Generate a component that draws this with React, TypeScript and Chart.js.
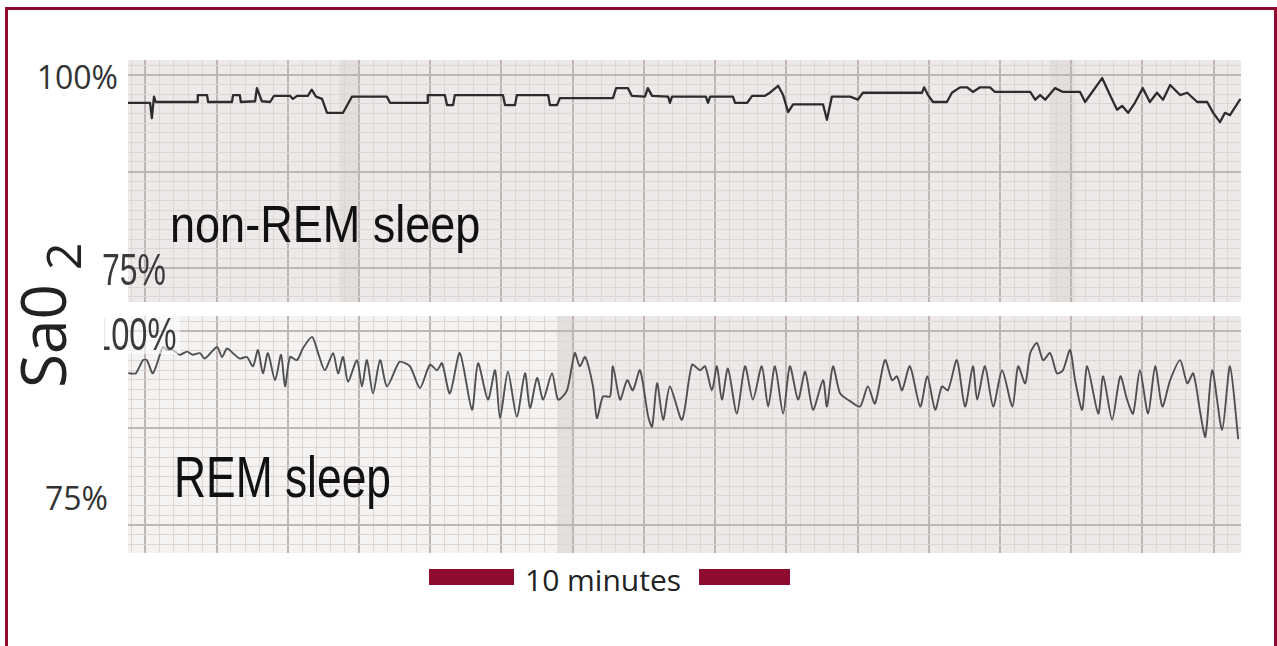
import React, { useEffect, useRef } from "react";
import { Chart, registerables } from "chart.js";

Chart.register(...registerables);

// ---- time axis (minutes) ----
const timeMin = -0.49;
const timeMax = 30.77;
const minorTimeStep = 0.4; // one small square
const majorTimeEvery = 5; // heavy line every 2 minutes

// ---- saturation axis (%) ----
const satMinorStep = 1.25;
const satMajorEvery = 10; // heavy line every 12.5 %
const nonRemSatRange = [70.6, 101.94];
const remSatRange = [71.38, 102.0];

// ---- non-REM sleep trace ----
const nonRemTime = [
  -0.49, 0.13, 0.18, 0.24, 0.29, 1.45, 1.47, 1.73, 1.76, 2.43,
  2.46, 2.65, 2.68, 3.08, 3.13, 3.27, 3.5, 3.61, 4.06, 4.14,
  4.26, 4.56, 4.67, 4.79, 4.96, 5.1, 5.55, 5.8, 6.78, 6.87,
  7.91, 7.93, 8.41, 8.47, 8.64, 8.69, 10.04, 10.1, 10.38, 10.43,
  11.31, 11.36, 11.56, 11.64, 13.13, 13.22, 13.55, 13.66, 14.03, 14.11,
  14.23, 14.68, 14.73, 14.79, 15.74, 15.8, 15.86, 16.5, 16.56, 16.9,
  17.04, 17.4, 17.54, 17.77, 17.91, 18.05, 18.19, 19.03, 19.14, 19.28,
  19.79, 20.01, 20.15, 21.81, 21.87, 21.98, 22.12, 22.51, 22.65, 22.88,
  23.08, 23.24, 23.44, 23.72, 23.86, 24.85, 24.99, 25.13, 25.27, 25.55,
  25.77, 26.25, 26.39, 26.87, 27.09, 27.29, 27.43, 27.6, 27.79, 28.01,
  28.21, 28.41, 28.58, 28.78, 29.06, 29.26, 29.54, 29.82, 29.99, 30.18,
  30.32, 30.46, 30.74,
];
const nonRemSat = [
  96.4, 96.4, 94.4, 97.2, 96.5, 96.5, 97.4, 97.4, 96.5, 96.5,
  97.4, 97.4, 96.5, 96.6, 98.3, 96.6, 96.5, 97.3, 97.3, 96.9,
  97.3, 97.3, 98.1, 97.2, 96.9, 95.1, 95.1, 97.2, 97.2, 96.4,
  96.4, 97.4, 97.4, 96.1, 96.1, 97.4, 97.4, 96.1, 96.1, 97.4,
  97.4, 96.1, 96.1, 97.0, 97.0, 98.3, 98.3, 97.3, 97.2, 98.3,
  97.3, 97.2, 96.4, 97.2, 97.2, 96.4, 97.2, 97.2, 96.4, 96.4,
  97.3, 97.3, 97.7, 98.6, 97.4, 95.2, 96.2, 96.2, 94.2, 97.2,
  97.2, 96.8, 97.7, 97.7, 98.4, 97.4, 96.5, 96.5, 97.7, 98.4,
  98.4, 97.8, 98.4, 98.4, 97.8, 97.8, 96.8, 97.4, 96.8, 98.3,
  97.8, 97.8, 96.5, 99.6, 97.4, 95.5, 96.0, 95.1, 96.4, 98.3,
  96.5, 97.7, 96.8, 98.7, 97.4, 97.7, 96.5, 96.5, 95.1, 93.9,
  95.1, 94.8, 96.8,
];

// ---- REM sleep trace ----
const remTime = [
  -0.46, -0.27, -0.07, 0.04, 0.21, 0.49, 0.6, 0.77, 0.97, 1.17,
  1.33, 1.53, 1.67, 2.01, 2.15, 2.29, 2.46, 2.65, 2.85, 3.02,
  3.16, 3.3, 3.44, 3.64, 3.81, 3.92, 4.06, 4.26, 4.42, 4.68,
  4.85, 5.04, 5.27, 5.41, 5.55, 5.69, 5.94, 6.08, 6.22, 6.39,
  6.59, 6.78, 7.06, 7.15, 7.43, 7.71, 7.99, 8.19, 8.33, 8.55,
  8.83, 9.17, 9.34, 9.62, 9.82, 9.96, 10.18, 10.43, 10.66, 10.8,
  11.0, 11.17, 11.42, 11.59, 11.84, 12.06, 12.2, 12.35, 12.57, 12.68,
  12.85, 13.05, 13.13, 13.33, 13.53, 13.69, 13.89, 14.12, 14.23, 14.37,
  14.54, 14.73, 15.07, 15.35, 15.58, 15.72, 15.91, 16.05, 16.19, 16.36,
  16.61, 16.84, 17.06, 17.31, 17.49, 17.68, 17.91, 18.1, 18.33, 18.53,
  18.75, 19.03, 19.14, 19.31, 19.51, 19.79, 20.07, 20.29, 20.49, 20.77,
  20.97, 21.11, 21.25, 21.47, 21.76, 21.96, 22.18, 22.37, 22.54, 22.79,
  23.02, 23.24, 23.36, 23.58, 23.81, 24.06, 24.35, 24.51, 24.71, 24.85,
  25.04, 25.21, 25.41, 25.6, 25.77, 25.97, 26.11, 26.31, 26.45, 26.76,
  26.9, 27.15, 27.38, 27.57, 27.74, 27.93, 28.16, 28.36, 28.56, 28.78,
  29.06, 29.26, 29.43, 29.63, 29.77, 29.96, 30.24, 30.46, 30.69,
];
const remSat = [
  94.6, 94.6, 96.3, 96.3, 94.6, 98.0, 97.6, 97.6, 97.0, 97.4,
  97.0, 97.2, 96.5, 98.0, 96.7, 97.8, 97.2, 96.5, 96.7, 95.5,
  97.6, 94.6, 97.2, 93.7, 97.0, 92.9, 96.7, 96.3, 97.8, 99.3,
  97.2, 95.0, 97.2, 94.6, 96.7, 93.5, 96.3, 92.9, 96.3, 92.0,
  96.3, 92.9, 95.5, 96.1, 95.5, 92.7, 95.7, 95.0, 95.9, 92.0,
  97.2, 89.9, 95.9, 91.2, 95.0, 88.8, 94.8, 89.0, 94.6, 90.1,
  94.0, 91.2, 94.6, 91.2, 92.4, 97.2, 95.5, 96.7, 92.9, 88.8,
  91.6, 91.6, 95.5, 91.2, 93.7, 92.4, 95.0, 89.0, 87.7, 93.3,
  88.6, 92.9, 88.6, 95.7, 95.0, 95.5, 92.4, 95.5, 91.2, 95.2,
  89.4, 95.5, 91.2, 95.5, 90.3, 95.5, 89.4, 95.5, 91.2, 94.8,
  89.9, 93.7, 90.3, 95.5, 92.0, 91.0, 90.3, 92.9, 90.7, 96.3,
  93.7, 94.2, 92.4, 95.5, 90.3, 94.2, 89.9, 92.9, 92.4, 96.3,
  90.3, 95.5, 91.2, 95.5, 90.3, 95.0, 90.3, 95.5, 93.3, 97.2,
  98.5, 96.3, 97.2, 94.6, 95.0, 97.6, 93.7, 89.9, 95.5, 89.4,
  94.2, 88.6, 94.2, 91.2, 89.4, 95.0, 89.4, 95.5, 90.3, 93.7,
  96.3, 93.3, 94.6, 89.4, 86.4, 95.0, 87.3, 95.5, 86.2,
];

// ---- texts ----
const topTickLabels = ["100%", "75%"];
const remTickLabels = ["100%", "75%"];
const panelLabels = ["non-REM sleep", "REM sleep"];
const axisTitleMain = "Sa0";
const axisTitleSub = "2";
const scaleBarLabel = "10 minutes";

// ---- styles ----
const PAPER = "#ede9e8";
const MINOR_GRID = "#dcd6d4";
const MAJOR_GRID = "#bfb7b5";
const FRAME = "#8c0b2e";

// scanned-paper shading: [from, to] in minutes, with a fill colour
const nonRemShading: [number, number, string][] = [
  [5.45, 6.0, "rgba(150,135,130,0.10)"],
  [25.4, 26.1, "rgba(150,135,130,0.10)"],
];
const remShading: [number, number, string][] = [
  [-0.49, 11.6, "rgba(255,255,255,0.45)"],
  [11.55, 12.05, "rgba(150,135,130,0.10)"],
];

function gridTicks(min: number, max: number, step: number) {
  const out: { value: number }[] = [];
  const k0 = Math.ceil(min / step - 1e-9);
  const k1 = Math.floor(max / step + 1e-9);
  for (let k = k0; k <= k1; k++) out.push({ value: +(k * step).toFixed(5) });
  return out;
}
function isMajor(v: number, step: number, every: number) {
  const k = Math.round(v / step);
  return k % every === 0;
}

function paperPlugin(shading: [number, number, string][]) {
  return {
    id: "paper",
    beforeDraw(chart: any) {
      const { ctx, chartArea, scales } = chart;
      ctx.save();
      ctx.fillStyle = PAPER;
      ctx.fillRect(chartArea.left, chartArea.top, chartArea.right - chartArea.left, chartArea.bottom - chartArea.top);
      shading.forEach(([a, b, col]) => {
        const x0 = scales.x.getPixelForValue(a);
        const x1 = scales.x.getPixelForValue(b);
        ctx.fillStyle = col;
        ctx.fillRect(x0, chartArea.top, x1 - x0, chartArea.bottom - chartArea.top);
      });
      ctx.restore();
    },
  };
}

function makeConfig(
  times: number[],
  sats: number[],
  range: number[],
  color: string,
  width: number,
  tension: number,
  shading: [number, number, string][]
): any {
  return {
    type: "line",
    data: {
      datasets: [
        {
          data: times.map((t, i) => ({ x: t, y: sats[i] })),
          borderColor: color,
          borderWidth: width,
          pointRadius: 0,
          tension,
          fill: false,
          borderJoinStyle: "round",
          borderCapStyle: "round",
        },
      ],
    },
    options: {
      animation: false,
      responsive: false,
      maintainAspectRatio: false,
      events: [],
      layout: { padding: 0 },
      plugins: { legend: { display: false }, tooltip: { enabled: false } },
      scales: {
        x: {
          type: "linear",
          min: timeMin,
          max: timeMax,
          afterBuildTicks: (s: any) => {
            s.ticks = gridTicks(timeMin, timeMax, minorTimeStep);
          },
          ticks: { display: false, autoSkip: false },
          border: { display: false },
          grid: {
            drawTicks: false,
            color: (c: any) => (isMajor(c.tick.value, minorTimeStep, majorTimeEvery) ? MAJOR_GRID : MINOR_GRID),
            lineWidth: (c: any) => (isMajor(c.tick.value, minorTimeStep, majorTimeEvery) ? 2 : 1),
          },
        },
        y: {
          type: "linear",
          min: range[0],
          max: range[1],
          afterBuildTicks: (s: any) => {
            s.ticks = gridTicks(range[0], range[1], satMinorStep);
          },
          ticks: { display: false, autoSkip: false },
          border: { display: false },
          grid: {
            drawTicks: false,
            color: (c: any) => (isMajor(c.tick.value, satMinorStep, satMajorEvery) ? MAJOR_GRID : MINOR_GRID),
            lineWidth: (c: any) => (isMajor(c.tick.value, satMinorStep, satMajorEvery) ? 2 : 1),
          },
        },
      },
    },
    plugins: [paperPlugin(shading)],
  };
}

export default function App() {
  const topRef = useRef<HTMLCanvasElement>(null);
  const remRef = useRef<HTMLCanvasElement>(null);

  useEffect(() => {
    const c1 = new Chart(
      topRef.current as HTMLCanvasElement,
      makeConfig(nonRemTime, nonRemSat, nonRemSatRange, "#2c2c2c", 2.3, 0, nonRemShading)
    );
    const c2 = new Chart(
      remRef.current as HTMLCanvasElement,
      makeConfig(remTime, remSat, remSatRange, "#505050", 1.9, 0.25, remShading)
    );
    return () => {
      c1.destroy();
      c2.destroy();
    };
  }, []);

  const open = "'Open Sans', 'DejaVu Sans', sans-serif";
  const lib = "'Liberation Sans', Arial, sans-serif";

  return (
    <div style={{ position: "fixed", left: 0, top: 0, width: 1277, height: 646, background: "#fff", overflow: "hidden" }}>
      <div
        style={{
          position: "absolute",
          left: 5,
          top: 7,
          width: 1272,
          height: 700,
          boxSizing: "border-box",
          borderLeft: `3px solid ${FRAME}`,
          borderTop: `3px solid ${FRAME}`,
          borderRight: `3px solid ${FRAME}`,
        }}
      />
      <canvas ref={topRef} width={1113} height={242} style={{ position: "absolute", left: 128, top: 60, width: 1113, height: 242 }} />
      <canvas ref={remRef} width={1113} height={237} style={{ position: "absolute", left: 128, top: 316, width: 1113, height: 237 }} />

      {/* crisp tick labels */}
      <div style={{ position: "absolute", right: 1277 - 118, top: 61, font: `32px ${open}`, lineHeight: "32px", color: "#333", whiteSpace: "nowrap" }}>
        {topTickLabels[0]}
      </div>
      <div style={{ position: "absolute", right: 1277 - 108, top: 482, font: `32px ${open}`, lineHeight: "32px", color: "#333", whiteSpace: "nowrap" }}>
        {remTickLabels[1]}
      </div>

      {/* scanned tick labels */}
      <div
        style={{
          position: "absolute",
          left: 102,
          top: 247,
          font: `45px ${lib}`,
          lineHeight: "45px",
          color: "#3a3a3a",
          whiteSpace: "nowrap",
          transform: "scaleX(0.71)",
          transformOrigin: "left top",
        }}
      >
        {topTickLabels[1]}
      </div>
      <div style={{ position: "absolute", left: 104, top: 316, width: 76, height: 38, overflow: "hidden", background: "rgba(255,255,255,0.6)" }}>
        <div
          style={{
            position: "absolute",
            left: -11,
            top: -5,
            font: `46px ${lib}`,
            lineHeight: "46px",
            color: "#3a3a3a",
            whiteSpace: "nowrap",
            transform: "scaleX(0.71)",
            transformOrigin: "left top",
          }}
        >
          {remTickLabels[0]}
        </div>
      </div>

      {/* panel labels */}
      <div
        style={{
          position: "absolute",
          left: 170,
          top: 198,
          font: `52px ${lib}`,
          lineHeight: "52px",
          color: "#111",
          whiteSpace: "nowrap",
          transform: "scaleX(0.866)",
          transformOrigin: "left top",
        }}
      >
        {panelLabels[0]}
      </div>
      <div
        style={{
          position: "absolute",
          left: 174,
          top: 448,
          font: `58px ${lib}`,
          lineHeight: "58px",
          color: "#111",
          whiteSpace: "nowrap",
          transform: "scaleX(0.765)",
          transformOrigin: "left top",
        }}
      >
        {panelLabels[1]}
      </div>

      {/* axis title */}
      <div
        style={{
          position: "absolute",
          left: 11,
          top: 388,
          font: `62px ${open}`,
          lineHeight: "62px",
          color: "#222",
          whiteSpace: "nowrap",
          transform: "rotate(-90deg)",
          transformOrigin: "left top",
        }}
      >
        {axisTitleMain}
        <span style={{ fontSize: 48, position: "relative", top: 15, marginLeft: 14 }}>{axisTitleSub}</span>
      </div>

      {/* scale bar */}
      <div style={{ position: "absolute", left: 429, top: 569, width: 85, height: 16, background: FRAME }} />
      <div style={{ position: "absolute", left: 699, top: 569, width: 91, height: 16, background: FRAME }} />
      <div style={{ position: "absolute", left: 525, top: 565, font: `30px ${open}`, lineHeight: "30px", color: "#222", whiteSpace: "nowrap" }}>
        {scaleBarLabel}
      </div>
    </div>
  );
}
